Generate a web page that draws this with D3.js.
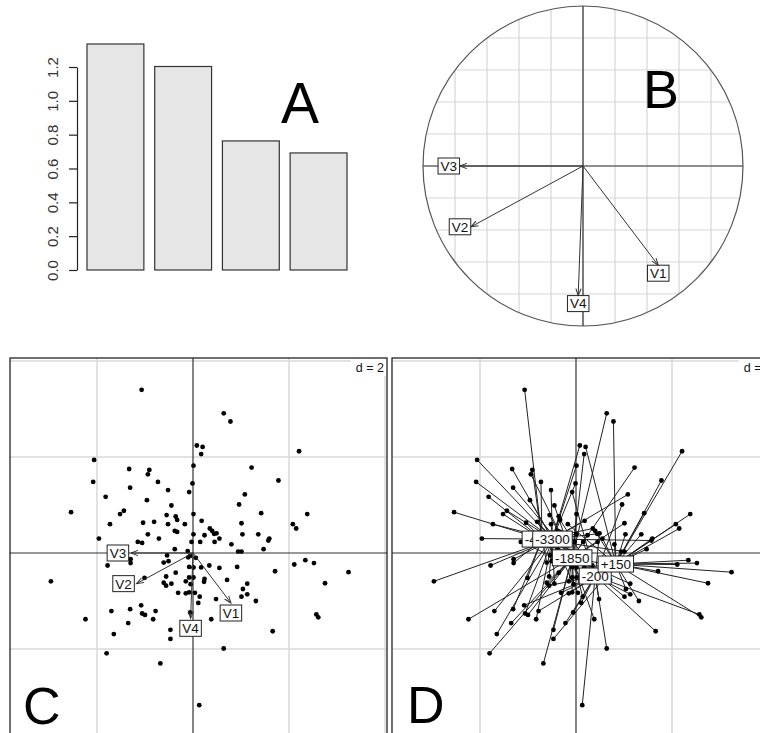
<!DOCTYPE html>
<html>
<head>
<meta charset="utf-8">
<script src="https://cdn.jsdelivr.net/npm/d3@7"></script>
<style>
  body { margin: 0; background: #fff; }
  svg { display: block; font-family: "Liberation Sans", Arial, sans-serif; }
</style>
</head>
<body>
<div id="chart"></div>
<script>
// Eigenvalues (panel A)
const eigenvalues = [1.336, 1.203, 0.763, 0.692];
const eigTicks = [0, 0.2, 0.4, 0.6, 0.8, 1.0, 1.2];

// Variable correlations (panel B), also used as arrows in C
const varNames = ["V1", "V2", "V3", "V4"];
const corX = [0.47, -0.70, -0.77, -0.03];
const corY = [-0.62, -0.38, 0.0, -0.81];
const arrowScale = 1.68; // arrow length factor in panel C

// Row scores (panels C and D)
const scoreX = [
  -1.07, -2.06, -1.33, -0.91, -0.94, -2.08, -0.73, -1.31, -0.52, -0.08,
  -1.82, -0.96, -0.45, -2.54, -1.44, -1.52, -0.55, -0.36, -0.33, -1.73,
  -1.04, -0.81, -0.52, -0.17, -0.38, -0.33, -0.94, -1.96, -0.71, -1.15,
  -1.06, -0.03, -0.38, -0.11, -0.01, 0.01, 0.01, 0.01, 0.08, 0.20,
  0.17, 0.64, 0.78, 2.21, 1.22, 1.78, 1.08, 0.96, 0.18, 1.42,
  2.38, 2.08, 2.15, 1.01, 0.35, 0.40, 0.44, 0.49, 0.55, 0.24,
  1.03, 1.36, 1.59, 1.57, 0.15, 0.45, 0.80, 0.94, 1.01, 1.47,
  -1.30, -1.30, -1.78, -0.54, -0.61, -0.51, -0.36, -2.96, -1.01, -0.61,
  -0.56, -0.45, -0.15, -0.31, -0.08, -2.24, -1.70, -1.31, -1.08, -1.06,
  -1.00, -0.78, -0.83, -1.35, -0.22, -1.65, -0.47, -0.47, -0.06, -1.80,
  -0.68, -0.08, -0.08, -0.10, -0.56, -0.15, -0.05,
  0.01, 0.01, 0.04, 0.14, 0.11, 0.23, 0.17, 0.34, 0.55, 0.71,
  0.92, 1.71, 2.11, 2.34, 2.52, 3.24, 0.24, 1.13, 1.04, 1.13,
  1.01, 1.31, 2.75, 0.48, 2.57, 2.61, 0.38, 1.66, 0.64, 0.13,
  0.06, -0.06
];
const scoreY = [
  3.40, 1.94, 1.75, 1.73, 1.64, 1.48, 1.48, 1.36, 1.31, 1.27,
  1.17, 1.10, 0.99, 0.85, 0.88, 0.81, 0.79, 0.76, 0.69, 0.60,
  0.63, 0.65, 0.60, 0.60, 0.46, 0.44, 0.39, 0.30, 0.30, 0.23,
  0.21, 0.23, 0.08, 0.04, 1.45, 1.82, 0.81, 0.39, 2.24, 2.21,
  2.06, 2.91, 2.74, 2.12, 1.78, 1.51, 1.22, 1.01, 0.67, 0.83,
  0.81, 0.60, 0.51, 0.62, 0.51, 0.46, 0.40, 0.41, 0.30, 0.37,
  0.39, 0.39, 0.30, 0.26, 0.23, 0.23, 0.18, 0.03, 0.03, 0.08,
  -0.13, -0.21, -0.26, -0.05, -0.20, -0.17, -0.41, -0.59, -0.52, -0.62,
  -0.68, -0.64, -0.59, -0.83, -0.82, -1.38, -1.21, -1.17, -1.09, -1.26,
  -1.29, -1.21, -1.38, -1.46, -1.46, -1.69, -1.60, -1.79, -1.24, -2.09,
  -2.30, -0.29, -0.51, -0.09, -0.49, -0.84, -0.65,
  -0.30, -0.51, -0.83, -0.91, -1.04, -0.60, -0.30, -0.26, -0.31, -0.56,
  -0.29, -0.38, -0.24, -0.15, -0.21, -0.40, -0.54, -0.64, -0.75, -0.86,
  -0.91, -1.00, -0.63, -0.96, -1.28, -1.34, -1.38, -1.63, -1.99, -3.17,
  -0.10, -0.06
];
// Group of each row (index into groupNames)
const scoreGroup = [
  0, 1, 1, 0, 2, 1, 0, 2, 1, 3,
  0, 1, 2, 0, 1, 0, 2, 1, 3, 1,
  0, 2, 1, 4, 0, 1, 2, 1, 0, 3,
  1, 2, 0, 1, 1, 1, 2, 0, 1, 4,
  2, 2, 4, 4, 2, 4, 1, 3, 1, 4,
  4, 4, 4, 2, 0, 4, 1, 3, 4, 2,
  4, 4, 4, 1, 3, 2, 4, 4, 0, 4,
  1, 0, 1, 2, 0, 1, 2, 1, 0, 2,
  3, 1, 2, 3, 2, 2, 1, 0, 3, 1,
  2, 4, 1, 2, 3, 1, 2, 4, 3, 2,
  2, 1, 3, 2, 1, 4, 2,
  2, 3, 1, 2, 3, 0, 4, 2, 3, 1,
  2, 4, 4, 4, 4, 4, 3, 2, 4, 3,
  1, 4, 4, 3, 3, 4, 2, 3, 3, 3,
  2, 0
];
// Group centroids (panel D)
const groupNames = ["-4000", "-3300", "-1850", "-200", "+150"];
const groupX = [-0.71, -0.49, -0.08, 0.40, 0.83];
const groupY = [0.29, 0.29, -0.10, -0.48, -0.23];

const width = 760;
const height = 733;

const svg = d3
  .select("#chart")
  .append("svg")
  .attr("width", width)
  .attr("height", height);

const defs = svg.append("defs");

// open arrow head
defs
  .append("marker")
  .attr("id", "arrow")
  .attr("viewBox", "-9 -5 11 10")
  .attr("refX", 0)
  .attr("refY", 0)
  .attr("markerWidth", 11)
  .attr("markerHeight", 10)
  .attr("markerUnits", "userSpaceOnUse")
  .attr("orient", "auto")
  .append("path")
  .attr("d", "M-7,-2.6L0,0L-7,2.6")
  .attr("fill", "none")
  .attr("stroke", "#333")
  .attr("stroke-width", 1);

// Boxed label helper (white box, black border)
function boxLabel(g, cx, cy, text) {
  const lg = g.append("g");
  const rect = lg.append("rect");
  const t = lg
    .append("text")
    .attr("x", cx)
    .attr("y", cy)
    .attr("dy", "0.36em")
    .attr("text-anchor", "middle")
    .attr("font-size", 13.5)
    .attr("fill", "#111")
    .text(text);
  const w = t.node().getComputedTextLength() + 5;
  const h = 16;
  rect
    .attr("x", cx - w / 2)
    .attr("y", cy - h / 2)
    .attr("width", w)
    .attr("height", h)
    .attr("fill", "#fff")
    .attr("stroke", "#222")
    .attr("stroke-width", 1);
  return { w, h };
}

// Arrow with label placed just beyond its tip
function drawArrows(g, xs, ys, factor, gap) {
  varNames.forEach((name, i) => {
    const x0 = xs(0), y0 = ys(0);
    const x1 = xs(corX[i] * factor), y1 = ys(corY[i] * factor);
    g.append("line")
      .attr("x1", x0)
      .attr("y1", y0)
      .attr("x2", x1)
      .attr("y2", y1)
      .attr("stroke", "#333")
      .attr("stroke-width", 1)
      .attr("marker-end", "url(#arrow)");
    const dx = x1 - x0, dy = y1 - y0;
    if (Math.abs(dx) > Math.abs(dy)) {
      boxLabel(g, x1 + Math.sign(dx) * (11 + gap), y1, name);
    } else {
      boxLabel(g, x1, y1 + Math.sign(dy) * (8 + gap), name);
    }
  });
}

// ---------------- Panel A: eigenvalue barplot ----------------
const gA = svg.append("g");

const xA = d3
  .scaleBand()
  .domain(eigenvalues.map((d, i) => i))
  .range([87, 347])
  .paddingInner(0.16)
  .paddingOuter(0);

const yA = d3.scaleLinear().domain([0, 1.2]).range([270, 67]);

gA.selectAll("rect.bar")
  .data(eigenvalues)
  .enter()
  .append("rect")
  .attr("class", "bar")
  .attr("x", (d, i) => xA(i))
  .attr("y", (d) => yA(d))
  .attr("width", xA.bandwidth())
  .attr("height", (d) => yA(0) - yA(d))
  .attr("fill", "#e6e6e6")
  .attr("stroke", "#333")
  .attr("stroke-width", 1.2);

const axisA = gA
  .append("g")
  .attr("transform", "translate(77,0)")
  .call(
    d3
      .axisLeft(yA)
      .tickValues(eigTicks)
      .tickFormat(d3.format(".1f"))
      .tickSize(8)
      .tickSizeOuter(0)
  );
axisA.select(".domain").attr("stroke", "#222").attr("stroke-width", 1.2);
axisA.selectAll(".tick line").attr("stroke", "#222").attr("stroke-width", 1.2);
axisA
  .selectAll(".tick text")
  .attr("x", 0)
  .attr("dy", 0)
  .attr("text-anchor", "middle")
  .attr("transform", "translate(-19,0) rotate(-90)")
  .attr("font-size", 15)
  .attr("font-family", "Liberation Sans, Arial, sans-serif")
  .attr("fill", "#333");

gA.append("text")
  .attr("x", 300)
  .attr("y", 123)
  .attr("text-anchor", "middle")
  .attr("font-size", 57)
  .attr("fill", "#000")
  .text("A");

// ---------------- Panel B: correlation circle ----------------
const gB = svg.append("g");
const cxB = 583, cyB = 166, rB = 160;
const xB = d3.scaleLinear().domain([-1, 1]).range([cxB - rB, cxB + rB]);
const yB = d3.scaleLinear().domain([-1, 1]).range([cyB + rB, cyB - rB]);

defs
  .append("clipPath")
  .attr("id", "clipB")
  .append("circle")
  .attr("cx", cxB)
  .attr("cy", cyB)
  .attr("r", rB);

const gridB = gB.append("g").attr("clip-path", "url(#clipB)");
xB.ticks(10).forEach((t) => {
  gridB
    .append("line")
    .attr("x1", xB(t))
    .attr("x2", xB(t))
    .attr("y1", yB(1))
    .attr("y2", yB(-1))
    .attr("stroke", "#d6d6d6")
    .attr("stroke-width", 1.2);
  gridB
    .append("line")
    .attr("x1", xB(-1))
    .attr("x2", xB(1))
    .attr("y1", yB(t))
    .attr("y2", yB(t))
    .attr("stroke", "#d6d6d6")
    .attr("stroke-width", 1.2);
});

gB.append("line")
  .attr("x1", xB(-1))
  .attr("x2", xB(1))
  .attr("y1", yB(0))
  .attr("y2", yB(0))
  .attr("stroke", "#333")
  .attr("stroke-width", 1.2);
gB.append("line")
  .attr("x1", xB(0))
  .attr("x2", xB(0))
  .attr("y1", yB(1))
  .attr("y2", yB(-1))
  .attr("stroke", "#333")
  .attr("stroke-width", 1.2);
gB.append("circle")
  .attr("cx", cxB)
  .attr("cy", cyB)
  .attr("r", rB)
  .attr("fill", "none")
  .attr("stroke", "#555")
  .attr("stroke-width", 1.2);

gB.append("text")
  .attr("x", 661)
  .attr("y", 108)
  .attr("text-anchor", "middle")
  .attr("font-size", 54)
  .attr("fill", "#000")
  .text("B");

drawArrows(gB, xB, yB, 1, 0);

// ---------------- Panels C and D: factorial maps ----------------
function mapPanel(id, ox, frame) {
  const g = svg.append("g");
  const xs = d3.scaleLinear().domain([-4, 4]).range([ox - 192, ox + 192]);
  const ys = d3.scaleLinear().domain([-4, 4]).range([553 + 192, 553 - 192]);

  defs
    .append("clipPath")
    .attr("id", id)
    .append("rect")
    .attr("x", frame[0])
    .attr("y", frame[1])
    .attr("width", frame[2] - frame[0])
    .attr("height", frame[3] - frame[1]);

  const inner = g.append("g").attr("clip-path", `url(#${id})`);
  [-4, -2, 2, 4].forEach((t) => {
    inner
      .append("line")
      .attr("x1", xs(t))
      .attr("x2", xs(t))
      .attr("y1", frame[1])
      .attr("y2", frame[3])
      .attr("stroke", "#d8d8d8")
      .attr("stroke-width", 1.5);
    inner
      .append("line")
      .attr("x1", frame[0])
      .attr("x2", frame[2])
      .attr("y1", ys(t))
      .attr("y2", ys(t))
      .attr("stroke", "#d8d8d8")
      .attr("stroke-width", 1.5);
  });
  inner
    .append("line")
    .attr("x1", frame[0])
    .attr("x2", frame[2])
    .attr("y1", ys(0))
    .attr("y2", ys(0))
    .attr("stroke", "#333")
    .attr("stroke-width", 1.2);
  inner
    .append("line")
    .attr("x1", xs(0))
    .attr("x2", xs(0))
    .attr("y1", frame[1])
    .attr("y2", frame[3])
    .attr("stroke", "#333")
    .attr("stroke-width", 1.2);

  // "d = 2" box in the top-right corner
  const dText = inner
    .append("text")
    .attr("x", frame[2] - 3)
    .attr("y", frame[1] + 14)
    .attr("text-anchor", "end")
    .attr("font-size", 12.5)
    .attr("fill", "#111")
    .text("d = 2");
  const dw = dText.node().getComputedTextLength() + 8;
  inner
    .insert("rect", "text")
    .attr("x", frame[2] - dw)
    .attr("y", frame[1] + 1)
    .attr("width", dw)
    .attr("height", 17)
    .attr("fill", "#fff");

  g.append("rect")
    .attr("x", frame[0])
    .attr("y", frame[1])
    .attr("width", frame[2] - frame[0])
    .attr("height", frame[3] - frame[1])
    .attr("fill", "none")
    .attr("stroke", "#111")
    .attr("stroke-width", 1.2);

  return { g, inner, xs, ys };
}

// Panel C
const pC = mapPanel("clipC", 193, [10, 358, 387, 760]);
pC.inner
  .selectAll("circle.pt")
  .data(scoreX)
  .enter()
  .append("circle")
  .attr("class", "pt")
  .attr("cx", (d) => pC.xs(d))
  .attr("cy", (d, i) => pC.ys(scoreY[i]))
  .attr("r", 2.4)
  .attr("fill", "#000");
drawArrows(pC.inner, pC.xs, pC.ys, arrowScale, 2);
svg
  .append("text")
  .attr("x", 23)
  .attr("y", 724)
  .attr("font-size", 52)
  .attr("fill", "#000")
  .text("C");

// Panel D
const pD = mapPanel("clipD", 576, [392, 358, 775, 760]);
pD.inner
  .selectAll("line.star")
  .data(scoreX)
  .enter()
  .append("line")
  .attr("class", "star")
  .attr("x1", (d) => pD.xs(d))
  .attr("y1", (d, i) => pD.ys(scoreY[i]))
  .attr("x2", (d, i) => pD.xs(groupX[scoreGroup[i]]))
  .attr("y2", (d, i) => pD.ys(groupY[scoreGroup[i]]))
  .attr("stroke", "#222")
  .attr("stroke-width", 1);
pD.inner
  .selectAll("circle.pt")
  .data(scoreX)
  .enter()
  .append("circle")
  .attr("class", "pt")
  .attr("cx", (d) => pD.xs(d))
  .attr("cy", (d, i) => pD.ys(scoreY[i]))
  .attr("r", 2.4)
  .attr("fill", "#000");
groupNames.forEach((name, k) => {
  boxLabel(pD.inner, pD.xs(groupX[k]), pD.ys(groupY[k]), name);
});
svg
  .append("text")
  .attr("x", 407)
  .attr("y", 723)
  .attr("font-size", 52)
  .attr("fill", "#000")
  .text("D");
</script>
</body>
</html>
